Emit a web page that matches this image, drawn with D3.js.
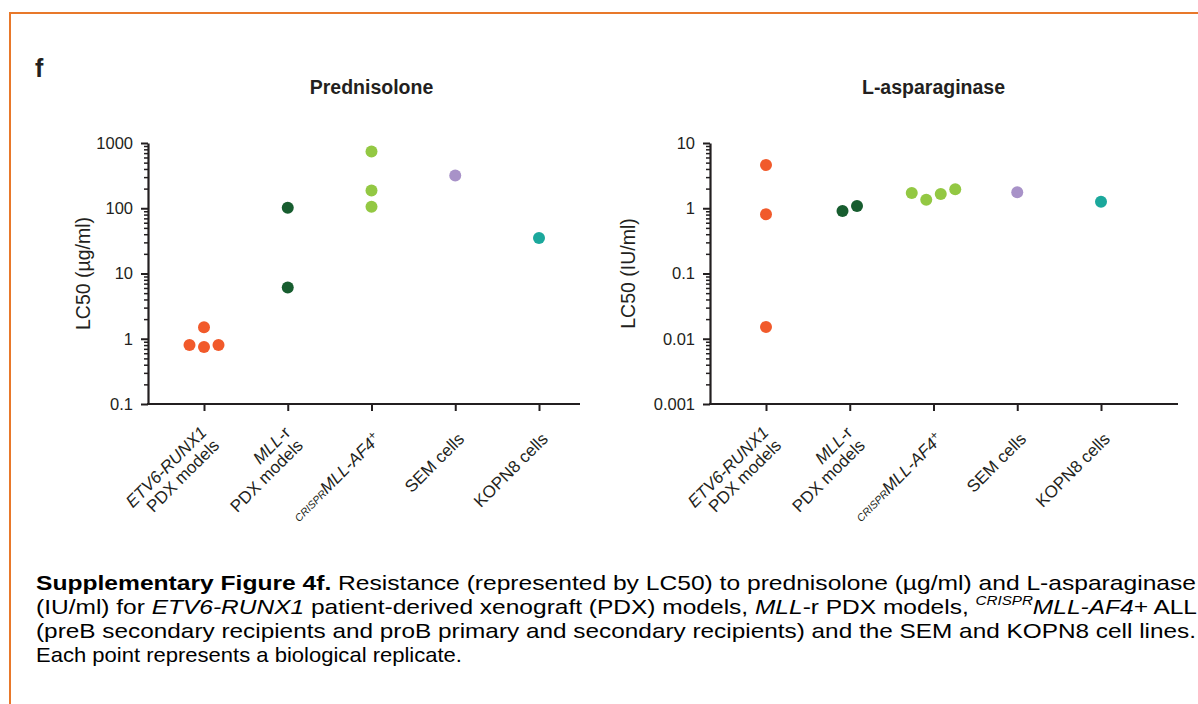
<!DOCTYPE html>
<html>
<head>
<meta charset="utf-8">
<script src="https://cdn.jsdelivr.net/npm/d3@7"></script>
<style>
body { margin: 0; background: #fff; }
svg { display: block; font-family: "Liberation Sans", Arial, sans-serif; }
</style>
</head>
<body>
<svg id="fig" width="1198" height="704"></svg>
<script>
// --- data -------------------------------------------------------------

var categories = ["ETV6-RUNX1 PDX", "MLL-r PDX", "CRISPR MLL-AF4+", "SEM", "KOPN8"];
var categoryColors = ["#f15a2b", "#175d2f", "#93c843", "#a892c8", "#1ba89c"];

// LC50 of each replicate, one array per category
var prednisolone = [
    [1.5, 0.8, 0.75, 0.8],
    [102, 6.1],
    [740, 187, 105],
    [318],
    [35]
];
var asparaginase = [
    [4.6, 0.81, 0.0152],
    [0.91, 1.08],
    [1.71, 1.35, 1.65, 1.95],
    [1.76],
    [1.26]
];

var prednisoloneTicks = [0.1, 1, 10, 100, 1000];
var asparaginaseTicks = [0.001, 0.01, 0.1, 1, 10];

// x tick labels: lines of text runs
var xLabels = [
    [[{t: "ETV6-RUNX1", it: 1}], [{t: "PDX models"}]],
    [[{t: "MLL", it: 1}, {t: "-r"}], [{t: "PDX models"}]],
    [[{t: "CRISPR", it: 1, small: 1}, {t: "MLL-AF4", it: 1}, {t: "+", sup: 1}]],
    [[{t: "SEM cells"}]],
    [[{t: "KOPN8 cells"}]]
];

var caption = [
    [{t: "Supplementary Figure 4f.", b: 1}, {t: " Resistance (represented by LC50) to prednisolone (µg/ml) and L-asparaginase"}],
    [{t: "(IU/ml) for "}, {t: "ETV6-RUNX1", it: 1}, {t: " patient-derived xenograft (PDX) models, "},
     {t: "MLL", it: 1}, {t: "-r PDX models, "}, {t: "CRISPR", it: 1, sup: 1}, {t: "MLL-AF4+", it: 1}, {t: " ALL"}],
    [{t: "(preB secondary recipients and proB primary and secondary recipients) and the SEM and KOPN8 cell lines."}],
    [{t: "Each point represents a biological replicate."}]
];

// --- drawing ----------------------------------------------------------

var ink = "#231f20";
var svg = d3.select("#fig");

// orange frame (top and left edges)
svg.append("path")
    .attr("d", "M10,704V13H1198")
    .attr("fill", "none")
    .attr("stroke", "#e8782a")
    .attr("stroke-width", 2);

svg.append("text")
    .attr("x", 35).attr("y", 77)
    .attr("font-size", 25).attr("font-weight", "bold")
    .attr("fill", ink)
    .text("f");

var plotTop = 143, plotBottom = 404;

// points sharing a height are laid side by side, centred on the tick
function swarm(vals, y, minGap, step) {
    var clusters = [];
    vals.forEach(function(v, i) {
        var c = clusters.find(function(cl) {
            return cl.some(function(j) { return Math.abs(y(vals[j]) - y(v)) < minGap; });
        });
        if(c) c.push(i); else clusters.push([i]);
    });
    var off = [];
    clusters.forEach(function(cl) {
        cl.forEach(function(j, k) { off[j] = (k - (cl.length - 1) / 2) * step; });
    });
    return off;
}

function addRuns(text, runs, opts) {
    runs.forEach(function(r) {
        var ts = text.append("tspan").text(r.t);
        if(r.it) ts.attr("font-style", "italic");
        if(r.b)  ts.attr("font-weight", "bold");
        if(r.small) ts.attr("font-size", opts.small);
        if(r.sup) {
            ts.attr("font-size", opts.sup).attr("dy", opts.supDy);
        }
    });
}

function panel(cfg) {
    var g = svg.append("g");

    var y = d3.scaleLog()
        .domain([cfg.ticks[0], cfg.ticks[cfg.ticks.length - 1]])
        .range([plotBottom, plotTop]);

    var x = d3.scalePoint()
        .domain(categories)
        .range([cfg.axisX + cfg.padL, cfg.axisEnd - cfg.padR]);

    var minor = [];
    cfg.ticks.slice(0, -1).forEach(function(d) {
        for(var m = 2; m < 10; m++) minor.push(d * m);
    });

    // minor ticks
    g.append("g")
        .attr("transform", "translate(" + cfg.axisX + ",0)")
        .call(d3.axisLeft(y).tickValues(minor).tickSize(4).tickFormat(""))
        .call(function(a) {
            a.select(".domain").remove();
            a.selectAll("line").attr("stroke", ink).attr("stroke-width", 1.5);
        });

    // major ticks + labels
    g.append("g")
        .attr("transform", "translate(" + cfg.axisX + ",0)")
        .call(d3.axisLeft(y).tickValues(cfg.ticks).tickSize(7).tickSizeOuter(0)
            .tickPadding(8).tickFormat(d3.format("~g")))
        .call(function(a) {
            a.select(".domain").attr("stroke", ink).attr("stroke-width", 2.2);
            a.selectAll("line").attr("stroke", ink).attr("stroke-width", 2);
            a.selectAll("text").attr("font-size", 16.5).attr("fill", ink)
                .attr("font-family", "Liberation Sans, Arial, sans-serif");
        });

    // x axis
    g.append("line")
        .attr("x1", cfg.axisX - 1).attr("x2", cfg.axisEnd)
        .attr("y1", plotBottom).attr("y2", plotBottom)
        .attr("stroke", ink).attr("stroke-width", 2.2);

    g.append("g")
        .attr("transform", "translate(0," + plotBottom + ")")
        .call(d3.axisBottom(x).tickSize(7).tickSizeOuter(0).tickFormat(""))
        .call(function(a) {
            a.select(".domain").remove();
            a.selectAll("line").attr("stroke", ink).attr("stroke-width", 2);
        });

    // rotated category labels, right-aligned, block centred on the anchor
    var lh = 18;
    xLabels.forEach(function(lines, ci) {
        var lg = g.append("g")
            .attr("transform", "translate(" + (x(categories[ci]) + 10) + "," + (plotBottom + 36) + ") rotate(-45)");
        lines.forEach(function(runs, li) {
            var t = lg.append("text")
                .attr("y", (li - (lines.length - 1) / 2) * lh)
                .attr("text-anchor", "end")
                .attr("font-size", 17)
                .attr("fill", ink);
            addRuns(t, runs, {small: 10.5, sup: 12, supDy: -6});
        });
    });

    // dots
    cfg.values.forEach(function(vals, ci) {
        var off = swarm(vals, y, 12, 14.5);
        g.selectAll(null)
            .data(vals)
            .enter().append("circle")
            .attr("cx", function(d, i) { return x(categories[ci]) + off[i]; })
            .attr("cy", function(d) { return y(d); })
            .attr("r", 6)
            .attr("fill", categoryColors[ci]);
    });

    // titles
    g.append("text")
        .attr("x", x(categories[2])).attr("y", 94)
        .attr("text-anchor", "middle")
        .attr("font-size", 19.5).attr("font-weight", "bold")
        .attr("fill", ink)
        .text(cfg.title);

    g.append("text")
        .attr("transform", "translate(" + cfg.yLabelX + "," + ((plotTop + plotBottom) / 2) + ") rotate(-90)")
        .attr("text-anchor", "middle")
        .attr("font-size", 19.5)
        .attr("fill", ink)
        .text(cfg.yLabel);
}

panel({
    title: "Prednisolone", yLabel: "LC50 (µg/ml)",
    values: prednisolone, ticks: prednisoloneTicks,
    axisX: 148, axisEnd: 580, padL: 56, padR: 41, yLabelX: 90
});

panel({
    title: "L-asparaginase", yLabel: "LC50 (IU/ml)",
    values: asparaginase, ticks: asparaginaseTicks,
    axisX: 710, axisEnd: 1178, padL: 56, padR: 77, yLabelX: 635
});

// caption, justified lines
var capWidths = [1160, 1161, 1160, 426];
caption.forEach(function(runs, i) {
    var t = svg.append("text")
        .attr("x", 36).attr("y", 590 + i * 24)
        .attr("font-size", 21)
        .attr("fill", "#000")
        .attr("textLength", capWidths[i])
        .attr("lengthAdjust", "spacingAndGlyphs");
    var afterSup = false;
    runs.forEach(function(r) {
        var ts = t.append("tspan").text(r.t);
        if(r.it) ts.attr("font-style", "italic");
        if(r.b)  ts.attr("font-weight", "bold");
        if(afterSup) { ts.attr("dy", 9); afterSup = false; }
        if(r.sup) {
            ts.attr("font-size", 13).attr("dy", -9);
            afterSup = true;
        }
    });
});
</script>
</body>
</html>
